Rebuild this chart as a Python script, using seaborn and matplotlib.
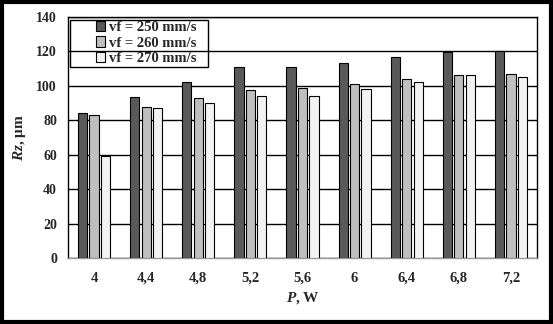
import matplotlib
matplotlib.use("Agg")
import matplotlib.pyplot as plt
import seaborn as sns
import pandas as pd
from matplotlib.patches import Rectangle
from matplotlib.ticker import FixedLocator

power = ["4", "4,4", "4,8", "5,2", "5,6", "6", "6,4", "6,8", "7,2"]
rz_250 = [84, 93.5, 102, 111, 111, 113.5, 116.5, 119.5, 120]
rz_260 = [83, 88, 93, 97.5, 99, 101, 104, 106.5, 107]
rz_270 = [59, 87, 90, 94, 94, 98, 102, 106.5, 105]
series = ["vf = 250 mm/s", "vf = 260 mm/s", "vf = 270 mm/s"]

rows = []
for name, vals in zip(series, [rz_250, rz_260, rz_270]):
    for p, v in zip(power, vals):
        rows.append({"P": p, "Rz": v, "series": name})
df = pd.DataFrame(rows)

sns.set_style("white")
plt.rcParams["font.family"] = ["Liberation Serif", "DejaVu Serif"]
plt.rcParams["font.weight"] = "bold"
plt.rcParams["mathtext.fontset"] = "custom"
plt.rcParams["mathtext.it"] = "Liberation Serif:italic:bold"
plt.rcParams["mathtext.rm"] = "Liberation Serif:bold"
plt.rcParams["mathtext.bf"] = "Liberation Serif:bold"

fig = plt.figure(figsize=(5.53, 3.24), dpi=100)
ax = fig.add_axes([68 / 553, 1 - 258 / 324, (537 - 68) / 553, (258 - 17) / 324])

palette = ["#595959", "#BFBFBF", "#F2F2F2"]
sns.barplot(data=df, x="P", y="Rz", hue="series", hue_order=series, order=power,
            palette=palette, width=0.66, gap=0.2, edgecolor="black", linewidth=0.8,
            saturation=1, ax=ax, zorder=3)

ax.set_ylim(0, 140)
ax.set_xlim(-0.5, len(power) - 0.5)
ax.set_yticks(range(0, 141, 20))
ax.yaxis.grid(True, color="black", linewidth=1.0, zorder=0)
ax.set_axisbelow(True)
for s in ax.spines.values():
    s.set_color("black")
    s.set_linewidth(1.0)
ax.spines["bottom"].set_color("#999999")

ax.tick_params(axis="y", length=0, labelsize=10, pad=8)
ax.tick_params(axis="x", which="major", length=0, labelsize=10.5, pad=10)
ax.xaxis.set_minor_locator(FixedLocator([i - 0.5 for i in range(len(power) + 1)]))
ax.tick_params(axis="x", which="minor", length=5, direction="out", color="#999999")
for lab in ax.get_xticklabels() + ax.get_yticklabels():
    lab.set_fontweight("bold")

ax.set_xlabel(r"$\mathit{P}$, W", fontsize=11, fontweight="bold", labelpad=4)
ax.set_ylabel(r"$\mathit{Rz}$, μm", fontsize=11, fontweight="bold", labelpad=6)

leg = ax.legend(loc="upper left", bbox_to_anchor=((96 - 68) / 469, (258 - 21) / 241),
                frameon=False,
                prop={"family": "Liberation Serif", "weight": "bold", "size": 10.5},
                handlelength=0.6, handleheight=0.7, handletextpad=0.3,
                labelspacing=0.15, borderpad=0.0, borderaxespad=0)
leg.set_zorder(5)
ax.add_patch(Rectangle((2 / 469, (258 - 67) / 241), 138 / 469, 47 / 241,
                       transform=ax.transAxes, fill=False, edgecolor="black",
                       linewidth=1.0, zorder=5, clip_on=False))

fig.patches.append(Rectangle((0.003, 0.005), 0.994, 0.99, transform=fig.transFigure,
                             fill=False, edgecolor="black", linewidth=3))

fig.savefig("out.png", dpi=100)
